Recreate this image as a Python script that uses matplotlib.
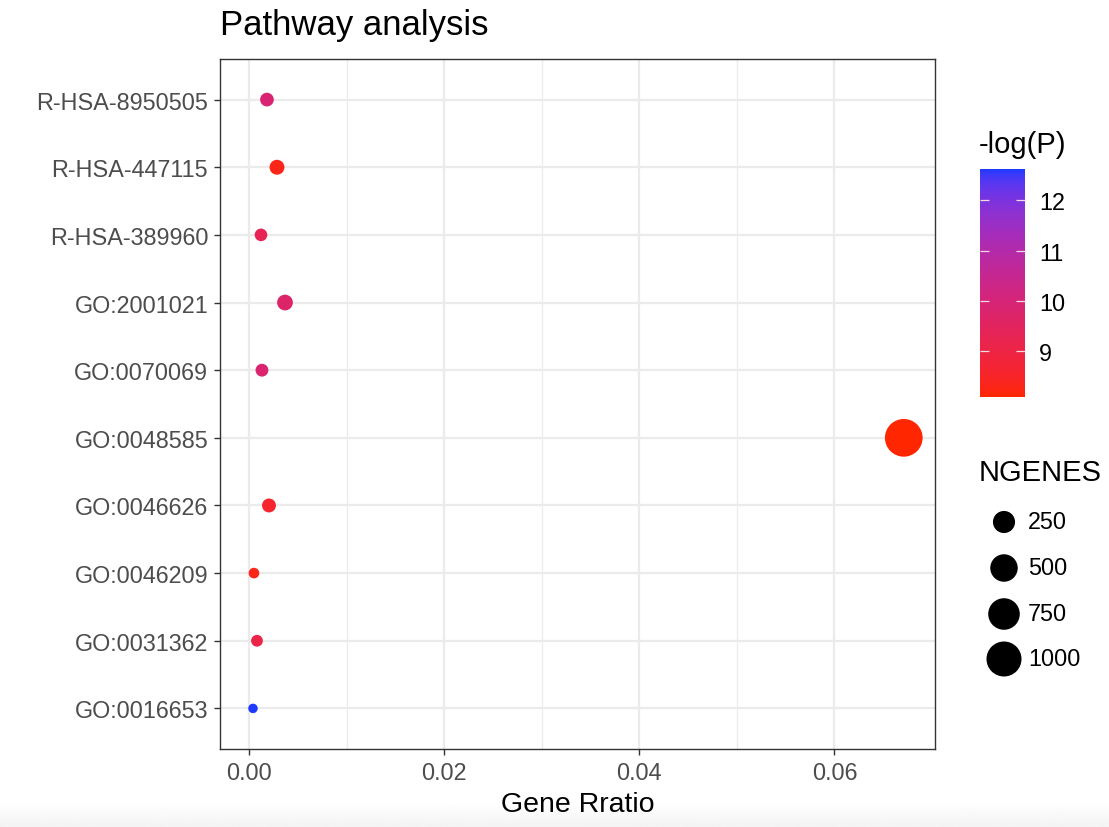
import numpy as np
import matplotlib
matplotlib.use("Agg")
import matplotlib.pyplot as plt
import matplotlib.colors as mcolors

plt.rcParams['font.family'] = ['Liberation Sans', 'DejaVu Sans']

# enriched terms, bottom to top
terms = ["GO:0016653", "GO:0031362", "GO:0046209", "GO:0046626", "GO:0048585",
         "GO:0070069", "GO:2001021", "R-HSA-389960", "R-HSA-447115", "R-HSA-8950505"]
gene_ratio = [0.00041, 0.00082, 0.00051, 0.00205, 0.0671,
              0.00133, 0.00369, 0.00123, 0.00287, 0.00184]
ngenes = [7, 15, 9, 37, 1221, 24, 67, 22, 52, 34]
neg_log_p = [12.62, 9.1, 8.3, 8.6, 8.09, 9.8, 9.7, 9.3, 8.3, 9.9]

size_breaks = [250, 500, 750, 1000]
color_breaks = [9, 10, 11, 12]
x_ticks = [0.00, 0.02, 0.04, 0.06]
x_minor = [0.01, 0.03, 0.05]

DPI = 100
W, H = 1109, 828


# --- colour scale: red -> blue interpolated in CIELAB ---
_M = np.array([[0.4124, 0.3576, 0.1805],
               [0.2126, 0.7152, 0.0722],
               [0.0193, 0.1192, 0.9505]])
_WHITE = np.array([0.95047, 1.0, 1.08883])


def to_lab(c):
    rgb = np.array(mcolors.to_rgb(c))
    lin = np.where(rgb <= 0.04045, rgb / 12.92, ((rgb + 0.055) / 1.055) ** 2.4)
    xyz = _M @ lin / _WHITE
    f = np.where(xyz > 0.008856, np.cbrt(xyz), 7.787 * xyz + 16 / 116)
    return np.array([116 * f[1] - 16, 500 * (f[0] - f[1]), 200 * (f[1] - f[2])])


def from_lab(lab):
    L, a, b = lab
    fy = (L + 16) / 116
    f = np.array([fy + a / 500, fy, fy - b / 200])
    xyz = np.where(f ** 3 > 0.008856, f ** 3, (f - 16 / 116) / 7.787) * _WHITE
    lin = np.linalg.solve(_M, xyz)
    lin = np.clip(lin, 0, 1)
    rgb = np.where(lin <= 0.0031308, 12.92 * lin, 1.055 * lin ** (1 / 2.4) - 0.055)
    return np.clip(rgb, 0, 1)


lo, hi = to_lab("#FF2600"), to_lab("#1E3AFF")
ramp = [from_lab(lo + (hi - lo) * t) for t in np.linspace(0, 1, 64)]
cmap = mcolors.LinearSegmentedColormap.from_list("red_blue_lab", ramp)
norm = mcolors.Normalize(vmin=min(neg_log_p), vmax=max(neg_log_p))

# --- point size: area scale, pixel diameter 9.5 .. 37.7 ---
n_min, n_max = min(ngenes), max(ngenes)


def marker_area(n):
    n = np.asarray(n, dtype=float)
    d_px = 9.5 + 28.2 * np.sqrt((n - n_min) / (n_max - n_min))
    d_pt = d_px * 72 / DPI
    return d_pt ** 2


fig = plt.figure(figsize=(W / DPI, H / DPI), dpi=DPI)

# faint grey strip along the bottom edge
strip = fig.add_axes([0, 0, 1, 26 / H])
strip.imshow(np.linspace(1.0, 0.955, 20)[:, None], cmap="gray", vmin=0, vmax=1,
             aspect="auto", extent=[0, 1, 0, 1], origin="upper")
strip.set_axis_off()

ax = fig.add_axes([220 / W, 1 - 750 / H, 715 / W, 690 / H])
y = np.arange(len(terms))

ax.set_xlim(-0.00297, 0.0703)
ax.set_ylim(-0.6, len(terms) - 0.4)
ax.set_xticks(x_ticks)
ax.set_xticklabels([f"{v:.2f}" for v in x_ticks])
ax.set_xticks(x_minor, minor=True)
ax.set_yticks(y)
ax.set_yticklabels(terms)

for v in x_ticks:
    ax.axvline(v, color="#EBEBEB", lw=1.6, zorder=0)
for v in x_minor:
    ax.axvline(v, color="#EBEBEB", lw=0.9, zorder=0)
for v in y:
    ax.axhline(v, color="#EBEBEB", lw=1.6, zorder=0)

sc = ax.scatter(gene_ratio, y, s=marker_area(ngenes), c=neg_log_p, cmap=cmap,
                norm=norm, linewidths=0, zorder=3)

for sp in ax.spines.values():
    sp.set_color("#333333")
    sp.set_linewidth(1.0)
ax.tick_params(axis="both", which="major", length=4.5, width=1.0, color="#333333",
               labelcolor="#4D4D4D", labelsize=16.8, pad=4)
ax.tick_params(axis="x", which="minor", length=0)

ax.set_xlabel("Gene Rratio", fontsize=20.5, color="black", labelpad=5)
fig.text(220 / W, 1 - 26 / H, "Pathway analysis", fontsize=25, ha="left",
         va="center")

# colour bar
cax = fig.add_axes([980 / W, 1 - 398 / H, 45 / W, 228 / H])
cb = fig.colorbar(sc, cax=cax, ticks=color_breaks)
cb.outline.set_visible(False)
cax.yaxis.set_ticks_position("both")
cax.tick_params(axis="y", direction="in", length=6.5, width=0.9, color="#F4D8E4",
                labelsize=16.8, labelcolor="black", labelleft=False,
                labelright=True, pad=10)
fig.text(979 / W, 1 - 145 / H, "-log(P)", fontsize=21, ha="left", va="center")

# size legend
fig.text(979 / W, 1 - 473 / H, "NGENES", fontsize=21, ha="left", va="center")
lax = fig.add_axes([980 / W, 1 - 685 / H, 120 / W, 185 / H])
lax.set_xlim(0, 120)
lax.set_ylim(685, 500)
key_y = [523, 569, 615, 660]
lax.scatter([24] * len(size_breaks), key_y, s=marker_area(size_breaks),
            color="black", linewidths=0)
for yy, lab in zip(key_y, size_breaks):
    lax.text(48, yy, str(lab), fontsize=16.8, ha="left", va="center")
lax.set_axis_off()

fig.savefig("out.png", dpi=DPI)
